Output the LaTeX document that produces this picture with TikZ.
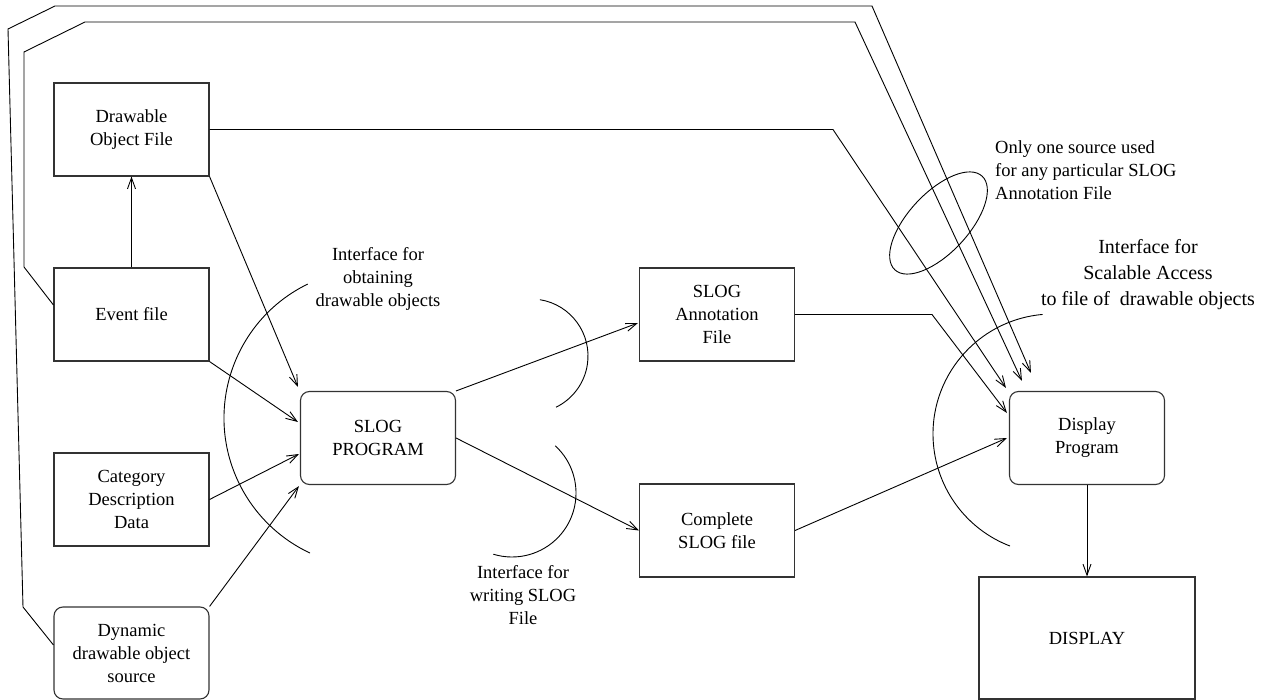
\documentclass[tikz,border=0pt]{standalone}
\usepackage{fontspec}
\setmainfont{Liberation Serif}
\usetikzlibrary{arrows.meta,calc}
\begin{document}
\begin{tikzpicture}[x=1pt,y=-1pt,
  box/.style={draw=black!80, line width=1.1pt, minimum width=155pt, minimum height=93pt, align=center, inner sep=0pt, font=\fontsize{18.5}{23}\selectfont},
  rbox/.style={box, rounded corners=9pt},
  conn/.style={line width=0.9pt},
  arr/.style={conn, -{Straight Barb[length=11pt,width=8pt]}},
  lbl/.style={align=center, inner sep=0pt, font=\fontsize{18.5}{23}\selectfont}]
\useasboundingbox (0,0) rectangle (1266,700);

\node[box] (draw) at (131.5,129.5) {Drawable\\Object File};
\node[box] (event) at (131.5,314.5) {Event file};
\node[box] (cat) at (131.5,499.5) {Category\\Description\\Data};
\node[rbox, minimum height=92pt] (dyn) at (131.5,653) {Dynamic\\drawable object\\source};
\node[rbox] (slog) at (378,438) {SLOG\\PROGRAM};
\node[box] (ann) at (717,314.5) {SLOG\\Annotation\\File};
\node[box] (comp) at (717,530.5) {Complete\\SLOG file};
\node[rbox] (disp) at (1087,438) {Display\\Program};
\node[box, minimum width=216pt, minimum height=122pt] (display) at (1087,638) {DISPLAY};

\draw[arr] (event.north) -- (draw.south);
\draw[arr] (draw.south east) -- ([shift={(-2,-4)}]slog.north west);
\draw[arr] (event.south east) -- ([shift={(-2,-16)}]slog.west);
\draw[arr] (cat.east) -- ([shift={(-1,16)}]slog.west);
\draw[arr] (dyn.north east) -- ([shift={(-1,1)}]slog.south west);
\draw[arr] (slog.north east) -- ([shift={(-1,8.5)}]ann.west);
\draw[arr] (slog.east) -- (comp.west);

\coordinate (a1) at (932,314.5);
\draw[arr] (ann.east) -- (a1) -- ([shift={(-2,-25)}]disp.west);
\draw[arr] (comp.east) -- ([shift={(-2,0)}]disp.west);
\coordinate (d1) at (833,129.5);
\draw[arr] (draw.east) -- (d1) -- ([shift={(-3,-3)}]disp.north west);

\coordinate (i1) at (24,267);
\coordinate (i2) at (24,52);
\coordinate (i3) at (85,22);
\coordinate (i4) at (855,22);
\draw[arr] ([shift={(0,-9.5)}]event.west) -- (i1) -- (i2) -- (i3) -- (i4) -- ([shift={(13,-10)}]disp.north west);

\coordinate (o1) at (23,607);
\coordinate (o2) at (8,29);
\coordinate (o3) at (55,6);
\coordinate (o4) at (872,6);
\draw[arr] ([shift={(0,-8)}]dyn.west) -- (o1) -- (o2) -- (o3) -- (o4) -- ([shift={(22,-18)}]disp.north west);

\draw[arr] (disp.south) -- (display.north);

\draw[conn] ([shift={(-116:149)}]373,418) arc[start angle=-116, end angle=-245, radius=149];
\draw[conn] ([shift={(-95:120)}]1053,434) arc[start angle=-95, end angle=-249, radius=120];
\draw[conn] ([shift={(-81:57)}]531,356) arc[start angle=-81, end angle=64, radius=57];
\draw[conn] ([shift={(-47.5:64)}]512,493) arc[start angle=-47.5, end angle=107, radius=64];

\draw[conn, rotate around={47:(938.5,223)}] (938.5,223) ellipse[x radius=64, y radius=30];

\node[lbl] (l1) at (378,279) {Interface for\\obtaining\\drawable objects};
\node[lbl] (l2) at (523,595) {Interface for\\writing SLOG\\File};
\node[lbl, align=left, anchor=west] (l3) at (995,170) {Only one source used\\for any particular SLOG\\Annotation File};
\node[lbl, font=\fontsize{20}{26}\selectfont] (l4) at (1148,275) {Interface for\\Scalable Access\\to file of\ \ drawable objects};
\end{tikzpicture}
\end{document}
